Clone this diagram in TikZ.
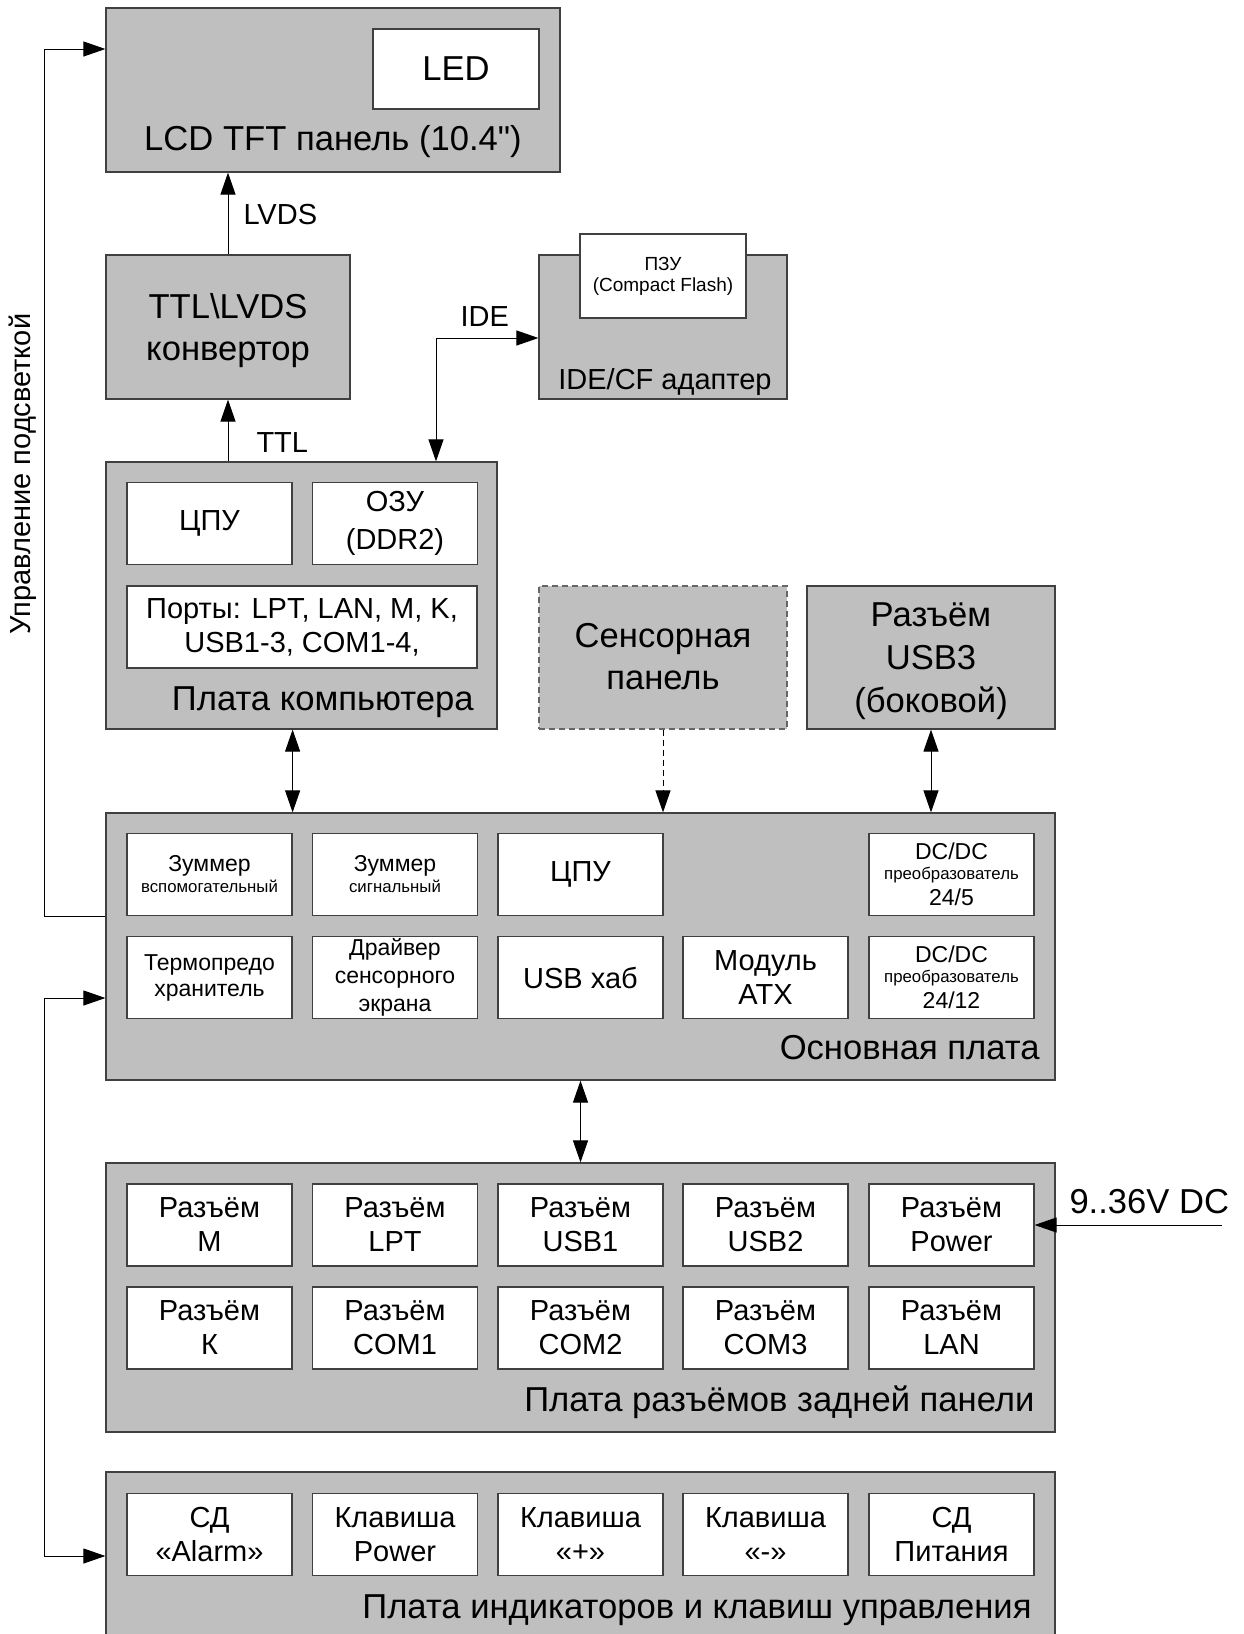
\documentclass[tikz,border=0pt]{standalone}
\usepackage{fontspec}
\setmainfont{Liberation Sans}
\usetikzlibrary{arrows.meta,fit}

\newcommand\szL{\fontsize{17.3pt}{21pt}\selectfont}
\newcommand\szM{\fontsize{14.5pt}{17pt}\selectfont}
\newcommand\szS{\fontsize{11.5pt}{13pt}\selectfont}
\newcommand\szT{\fontsize{8.4pt}{10pt}\selectfont}
\newcommand\szP{\fontsize{9.5pt}{10.5pt}\selectfont}

\tikzset{
  board/.style={draw=black!75, line width=0.6pt, fill=black!25, inner sep=0pt},
  part/.style={draw=black!75, line width=0.6pt, fill=white, minimum width=82.5pt,
    minimum height=41pt, align=center, inner sep=1pt, font=\szM},
  boardtxt/.style={font=\szL, inner sep=0pt, align=center},
  sig/.style={font=\szM, inner sep=0pt},
}

\begin{document}
\begin{tikzpicture}[x=0.5pt, y=-0.5pt, line width=0.5pt,
    >={Triangle[length=11pt,width=7.5pt]}]
  \useasboundingbox (0,0) rectangle (1243,1634);
  \clip (0,0) rectangle (1243,1634);

  \node[board, fit={(106,8) (560,172)}] (lcd) {};
  \node[part, font=\szL, minimum width=83pt, minimum height=40pt] (led) at (456,69) {LED};
  \node[boardtxt, anchor=base] (lcdtxt) at (333,150) {LCD TFT панель (10.4\textquotedbl)};

  \node[board, fit={(106,255) (350,399)}] (conv) {};
  \node[boardtxt] (convtxt) at (228,331) {TTL\textbackslash LVDS\\конвертор};

  \node[board, fit={(539,255) (787,399)}] (ide) {};
  \node[part, font=\szP, minimum width=83pt, minimum height=42pt] (rom) at (663,276) {ПЗУ\\(Compact Flash)};
  \node[sig, anchor=base] (idetxt) at (665,389) {IDE/CF адаптер};

  \node[board, fit={(106,462) (497,729)}] (pc) {};
  \node[part] (cpu) at (209.5,523.5) {ЦПУ};
  \node[part] (ram) at (395,523.5) {ОЗУ\\[2pt](DDR2)};
  \node[part, minimum width=175pt] (ports) at (302,627) {Порты: LPT, LAN, M, K,\\USB1-3, COM1-4,};
  \node[boardtxt, anchor=base east] (pctxt) at (474,710) {Плата компьютера};

  \node[board, draw=black!60, dash pattern=on 3pt off 2pt, fit={(539,586) (787,729)}] (touch) {};
  \node[boardtxt] (touchtxt) at (663,657) {Сенсорная\\панель};

  \node[board, fit={(807,586) (1055,729)}] (usb3) {};
  \node[boardtxt] (usb3txt) at (931,661) {Разъём\\[0.5pt]USB3\\[0.5pt](боковой)};

  \node[board, fit={(106,813) (1055,1080)}] (mainb) {};
  \node[part, font=\szS] (bz1) at (209.5,874.5) {Зуммер\\[-2.5pt]{\szT вспомогательный}};
  \node[part, font=\szS] (bz2) at (395,874.5) {Зуммер\\[-2.5pt]{\szT сигнальный}};
  \node[part] (mcpu) at (580.5,874.5) {ЦПУ};
  \node[part, font=\szS] (dc5) at (951.5,874.5) {DC/DC\\[-3pt]{\szT преобразователь}\\24/5};
  \node[part, font=\szS] (therm) at (209.5,977.5) {Термопредо\\хранитель};
  \node[part, font=\szS] (tdrv) at (395,977.5) {Драйвер\\[1pt]сенсорного\\[1pt]экрана};
  \node[part] (hub) at (580.5,977.5) {USB хаб};
  \node[part] (atx) at (765.5,977.5) {Модуль\\ATX};
  \node[part, font=\szS] (dc12) at (951.5,977.5) {DC/DC\\[-3pt]{\szT преобразователь}\\24/12};
  \node[boardtxt, anchor=base east] (maintxt) at (1040,1059) {Основная плата};

  \node[board, fit={(106,1163) (1055,1432)}] (rear) {};
  \node[part] (cm) at (209.5,1225) {Разъём\\M};
  \node[part] (clpt) at (395,1225) {Разъём\\LPT};
  \node[part] (cusb1) at (580.5,1225) {Разъём\\USB1};
  \node[part] (cusb2) at (765.5,1225) {Разъём\\USB2};
  \node[part] (pwr) at (951.5,1225) {Разъём\\Power};
  \node[part] (ck) at (209.5,1328) {Разъём\\К};
  \node[part] (ccom1) at (395,1328) {Разъём\\COM1};
  \node[part] (ccom2) at (580.5,1328) {Разъём\\COM2};
  \node[part] (ccom3) at (765.5,1328) {Разъём\\COM3};
  \node[part] (clan) at (951.5,1328) {Разъём\\LAN};
  \node[boardtxt, anchor=base east] (reartxt) at (1035,1411) {Плата разъёмов задней панели};

  \node[board, fit={(106,1472) (1055,1660)}] (ind) {};
  \node[part] (ledal) at (209.5,1534.5) {СД\\«Alarm»};
  \node[part] (kpwr) at (395,1534.5) {Клавиша\\Power};
  \node[part] (kplus) at (580.5,1534.5) {Клавиша\\«+»};
  \node[part] (kminus) at (765.5,1534.5) {Клавиша\\«-»};
  \node[part] (ledpw) at (951.5,1534.5) {СД\\Питания};
  \node[boardtxt, anchor=base east] (indtxt) at (1032,1618) {Плата индикаторов и клавиш управления};

  \draw[->] (conv.north) -- (conv.north |- lcd.south);
  \node[sig, anchor=west] (lvds) at (243,215) {LVDS};
  \draw[->] (conv.south |- pc.north) -- (conv.south);
  \node[sig, anchor=west] (ttl) at (256,443) {TTL};
  \coordinate (ideknee) at (436,338);
  \draw[<->] (pc.north -| ideknee) -- (ideknee) -- (ideknee -| ide.west);
  \node[sig, anchor=west] (idelbl) at (460,317) {IDE};

  \draw[<->] (pc.south -| cpu.east) -- (mainb.north -| cpu.east);
  \draw[->, dash pattern=on 3pt off 2pt] (touch.south) -- (touch.south |- mainb.north);
  \draw[<->] (usb3.south) -- (usb3.south |- mainb.north);
  \draw[<->] (mainb.south) -- (rear.north);

  \coordinate (vin) at (1222,1225);
  \draw[->] (vin) -- (pwr.east);
  \node[boardtxt, anchor=base west] (vintxt) at (1069,1213) {9..36V DC};

  \coordinate (bl1) at (44,916);
  \coordinate (bl2) at (44,49);
  \draw[->] (bl1 -| mainb.west) -- (bl1) -- (bl2) -- (bl2 -| lcd.west);
  \node[sig, rotate=90] (bltxt) at (23,474) {Управление подсветкой};
  \coordinate (kn1) at (44,998);
  \coordinate (kn2) at (44,1556);
  \draw[<->] (kn1 -| mainb.west) -- (kn1) -- (kn2) -- (kn2 -| ind.west);
\end{tikzpicture}
\end{document}
